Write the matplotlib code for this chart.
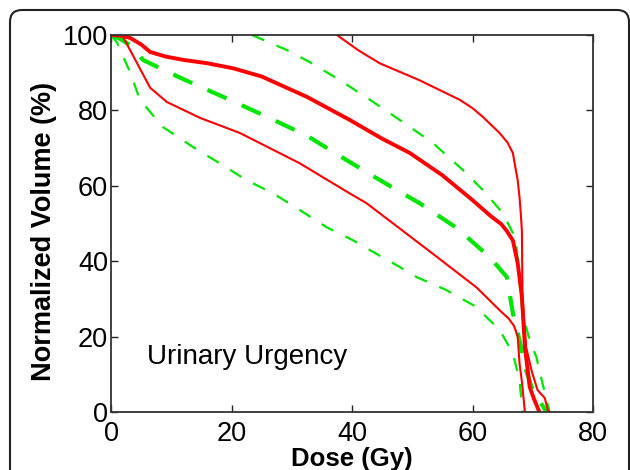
import matplotlib
matplotlib.use("Agg")
import matplotlib.pyplot as plt
from matplotlib.patches import FancyBboxPatch
from matplotlib.transforms import IdentityTransform

plt.rcParams['font.family'] = ['Liberation Sans', 'DejaVu Sans']

# Red: thick mean curve
red_mean_dose = [0, 2, 3.2, 5, 6.5, 9, 12, 16, 20.2, 25, 32.5, 39.6, 45, 49.6, 55, 60, 63, 64.8, 65.7, 66.7, 67.5, 68.2, 68.7, 69.5, 70.2, 71.1]
red_mean_vol = [100, 99.8, 99.2, 97.5, 95.5, 94.3, 93.4, 92.5, 91.2, 89, 83.6, 77.5, 72.5, 68.7, 62.8, 56.2, 52, 49.8, 48, 45.5, 39.5, 30.5, 17.2, 6.6, 3.5, 0]

# Red: thin upper bound
red_hi_dose = [37.5, 41, 44.6, 51.2, 57.9, 60, 61.7, 64.5, 65.8, 66.7, 67.1, 67.5, 67.8, 68.0, 68.2, 68.3, 68.9, 69.8, 70.8, 72.0, 72.5, 72.8]
red_hi_vol = [100, 96, 92.5, 88, 82.8, 80.6, 78.3, 74, 71.5, 68.7, 65, 61.5, 57, 53, 48, 30.5, 17.2, 11, 5.8, 3.7, 0.5, 0]

# Red: thin lower bound
red_lo_dose = [0, 1, 2, 3, 4.3, 6.5, 9.3, 14.8, 21.4, 31.3, 39.6, 42.4, 53.4, 60.7, 64.5, 66.0, 66.9, 67.5, 67.8, 68.2, 68.7]
red_lo_vol = [100, 100, 99.5, 96.5, 92.6, 86, 82.2, 78, 74, 66, 58, 55.4, 42, 33, 27, 24.8, 22.8, 20, 13, 8, 0]

# Green: thick dashed mean curve
grn_mean_dose = [0, 1.5, 3.2, 5.3, 9, 13.1, 18.6, 25.9, 32.5, 38.5, 44.1, 51.2, 57.4, 62.9, 65.7, 66.7, 67.8, 68.9, 70.0, 71.5, 72.3]
grn_mean_vol = [100, 99, 97.3, 93.4, 90.5, 87.5, 83.6, 78.3, 73.3, 67.4, 62, 55.4, 48.8, 41, 35.8, 26.2, 19, 11, 5.8, 2, 0]

# Green: thin dashed upper bound
grn_hi_dose = [23.4, 29.2, 33, 38, 43, 47.9, 53.4, 58.4, 61.7, 65, 66.7, 67.3, 67.8, 68.3, 69.5, 70.6, 71.6, 72.8]
grn_hi_vol = [100, 96, 92.8, 88, 82.8, 77.5, 71.4, 64.2, 58.9, 52.8, 47.5, 43.8, 35, 26, 19, 14.6, 7.7, 0]

# Green: thin dashed lower bound
grn_lo_dose = [0, 1, 3.2, 4.8, 8.6, 13.6, 18, 22.5, 26.9, 31.3, 35.8, 40.1, 45.1, 47.9, 50.7, 55.6, 60.5, 64.5, 66.7, 67.8, 68.3]
grn_lo_vol = [100, 98, 90, 82.8, 75.6, 70.3, 66, 61.5, 58, 53.6, 49, 45.6, 41, 38.5, 35.8, 32.4, 28, 21.8, 15.6, 8.5, 0]

x_ticks = [0, 20, 40, 60, 80]
y_ticks = [0, 20, 40, 60, 80, 100]

fig = plt.figure(figsize=(6.3, 4.7), dpi=100)
ax = fig.add_axes([111/630, 58/470, 482/630, 377/470])

green = '#00e600'
ax.plot(grn_hi_dose, grn_hi_vol, color=green, lw=1.6, dashes=(6, 6))
ax.plot(grn_lo_dose, grn_lo_vol, color=green, lw=1.6, dashes=(6, 6))
ax.plot(grn_mean_dose, grn_mean_vol, color=green, lw=3.0, dashes=(5, 4))
ax.plot(red_hi_dose, red_hi_vol, color='red', lw=1.5)
ax.plot(red_lo_dose, red_lo_vol, color='red', lw=1.5)
ax.plot(red_mean_dose, red_mean_vol, color='red', lw=2.8)

ax.set_xlim(0, 80)
ax.set_ylim(0, 100)
ax.set_xticks(x_ticks)
ax.set_yticks(y_ticks)
ax.tick_params(direction='in', length=5, width=1, top=True, right=True,
               labelsize=19.5, colors='#222222', labelcolor='black')
ax.tick_params(axis='x', pad=6.5)
ax.tick_params(axis='y', pad=2)
for s in ax.spines.values():
    s.set_linewidth(1.3)
    s.set_color('#333333')

ax.set_xlabel('Dose (Gy)', fontsize=18.5, fontweight='bold', labelpad=0)
ax.set_ylabel('Normalized Volume (%)', fontsize=19.5, fontweight='bold')
ax.yaxis.set_label_coords(-0.112, 0.48)

ax.text(6, 14.6, 'Urinary Urgency', fontsize=20, ha='left', va='center')

frame = FancyBboxPatch((10, -30), 619, 490, boxstyle='round,pad=0,rounding_size=12',
                       transform=IdentityTransform(), fill=False, lw=1.5,
                       edgecolor='#222222')
fig.patches.append(frame)

fig.savefig('out.png', dpi=100)
